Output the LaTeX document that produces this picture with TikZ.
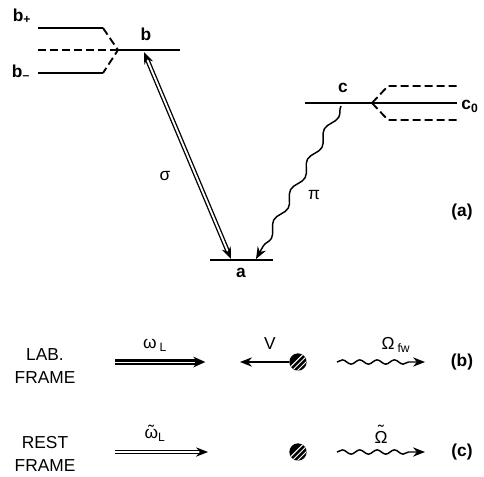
\documentclass[tikz,border=0pt]{standalone}
\usepackage{fontspec}
\setsansfont{Liberation Sans}
\usetikzlibrary{arrows.meta,decorations.pathmorphing}
\newcommand{\tildeover}[2]{\ooalign{#2\cr\hidewidth\raisebox{#1}{\char"02DC}\hidewidth\cr}}
\begin{document}
\begin{tikzpicture}[x=0.75pt,y=-0.75pt,
  txt/.style={font=\sffamily\fontsize{13}{15}\selectfont, inner sep=0pt},
  btxt/.style={font=\sffamily\bfseries\fontsize{13}{15}\selectfont, inner sep=0pt},
  lvl/.style={line width=1.4pt},
  dsh/.style={line width=1.4pt, dash pattern=on 6pt off 3pt},
  dbl/.style={double, double distance=1.4pt, line width=1pt},
  wav/.style={line width=1.1pt, decorate, decoration={snake, amplitude=1.6pt, segment length=13pt, post length=8pt}},
  tip/.style={-{Stealth[length=9pt,width=7pt]}},
  ]
\useasboundingbox (0,0) rectangle (484,476);
% level coordinates
\coordinate (bL) at (118,50); \coordinate (bR) at (180,50);
\coordinate (cL) at (305,103); \coordinate (cR) at (372,103);
\coordinate (aL) at (210,260); \coordinate (aR) at (273,260);
\draw[lvl] (bL) -- (bR);
\draw[lvl] (cL) -- (cR);
\draw[lvl] (aL) -- (aR);
% b sublevels
\coordinate (bp) at (38,28); \coordinate (bpe) at (103,28);
\coordinate (bm) at (38,73); \coordinate (bme) at (103,73);
\coordinate (b0) at (38,50);
\draw[lvl] (bp) -- (bpe);
\draw[lvl] (bm) -- (bme);
\draw[dsh] (bpe) -- (bL) -- (bme);
\draw[dsh] (b0) -- (bL);
\node[btxt] (lbp) at (22,16) {b\textsubscript{+}};
\node[btxt] (lbm) at (21,72) {b\textsubscript{--}};
\node[btxt] (lb) at (146,34) {b};
% c sublevels
\coordinate (cu) at (388,86); \coordinate (cue) at (457,86);
\coordinate (cd) at (388,120); \coordinate (cde) at (457,120);
\coordinate (c0e) at (457,103);
\draw[dsh] (cR) -- (cu) -- (cue);
\draw[dsh] (cR) -- (cd) -- (cde);
\draw[lvl] (cR) -- (c0e);
\node[btxt] (lc) at (343,88) {c};
\node[btxt] (lc0) at (470,106) {c\textsubscript{0}};
\node[btxt] (la) at (241,273) {a};
% transitions
\coordinate (bt) at (144,52); \coordinate (ab) at (231,259);
\draw[dbl, {Stealth[length=9pt,width=7pt]}-{Stealth[length=9pt,width=7pt]}] (bt) -- (ab);
\node[txt] (sig) at (165,176) {σ};
\coordinate (ct) at (341,106); \coordinate (ac) at (256,259);
\draw[wav, decoration={segment length=26pt, amplitude=2.6pt}, tip] (ct) -- (ac);
\node[txt] (pi) at (314,195) {π};
\node[btxt] (pa) at (462,212) {(a)};
% row b
\node[txt, align=center] (lab) at (45,366) {LAB.\\[2pt]FRAME};
\coordinate (w1s) at (115,362); \coordinate (w1e) at (208,362);
\draw[line width=4pt, -{Stealth[length=9pt,width=8pt]}] (w1s) -- ([xshift=-2pt]w1e);
\draw[white, line width=0.5pt] (w1s) -- ([xshift=-10pt]w1e);
\node[txt] (wl) at (155,345) {ω\,\textsubscript{L}};
\node[circle, fill=black, minimum size=13pt, inner sep=0pt] (atb) at (298,362) {};
\begin{scope}
\clip (atb) circle (6.5pt);
\foreach \d in {-12,-8,...,12} \draw[white, line width=0.7pt] ([xshift=\d pt, yshift=-10pt]atb.center) -- ++(20pt,20pt);
\end{scope}
\coordinate (ve) at (240,362);
\draw[line width=1.1pt, tip] (atb.west) -- (ve);
\node[txt] (V) at (270,344) {V};
\coordinate (o1s) at (337,362); \coordinate (o1e) at (425,362);
\draw[wav, tip] (o1s) -- (o1e);
\node[txt] (ofw) at (396,345) {Ω\,\textsubscript{fw}};
\node[btxt] (pb) at (462,362) {(b)};
% row c
\node[txt, align=center] (rest) at (45,454) {REST\\[2pt]FRAME};
\coordinate (w2s) at (115,452); \coordinate (w2e) at (208,452);
\draw[dbl, tip] (w2s) -- (w2e);
\node[txt] (wlt) at (155,435) {\tildeover{0.05em}{ω}\textsubscript{L}};
\node[circle, fill=black, minimum size=13pt, inner sep=0pt] (atc) at (298,452) {};
\begin{scope}
\clip (atc) circle (6.5pt);
\foreach \d in {-12,-8,...,12} \draw[white, line width=0.7pt] ([xshift=\d pt, yshift=-10pt]atc.center) -- ++(20pt,20pt);
\end{scope}
\coordinate (o2s) at (337,452); \coordinate (o2e) at (425,452);
\draw[wav, tip] (o2s) -- (o2e);
\node[txt] (ot) at (381,437) {\tildeover{0.3em}{Ω}};
\node[btxt] (pc) at (462,452) {(c)};
\end{tikzpicture}
\end{document}
